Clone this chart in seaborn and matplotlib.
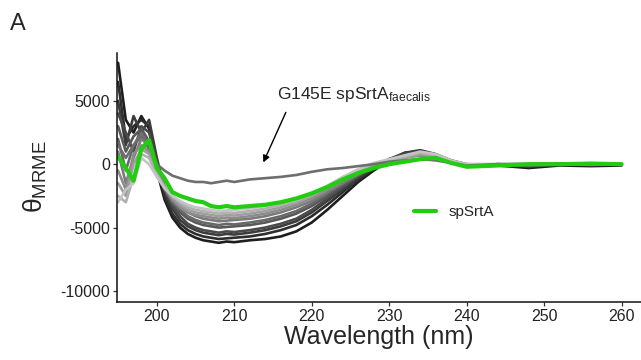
import seaborn as sns
import numpy as np
import matplotlib.pyplot as plt
import pandas as pd

# wavelength grid (nm)
wavelength = [195, 196, 197, 198, 199, 200, 201, 202, 203, 204, 205, 206, 207, 208, 209, 210,
              212, 214, 216, 218, 220, 222, 224, 226, 228, 230, 232, 234, 236, 238, 240,
              244, 248, 252, 256, 260]

# grey spectra of the other sortases, dark to light
grey_1 = [8000, 3500, 2500, 3800, 2800, -500, -2800, -4200, -5000, -5500, -5800, -6000, -6100, -6200, -6100, -6150,
          -6000, -5900, -5700, -5300, -4600, -3600, -2500, -1400, -500, 300, 800, 1000, 700, 200, -200,
          -100, -300, -100, -150, -100]
grey_2 = [6500, 2000, 3000, 3500, 3000, 0, -2500, -3900, -4700, -5200, -5500, -5700, -5800, -5900, -5850, -5800,
          -5700, -5500, -5200, -4800, -4100, -3200, -2200, -1200, -400, 300, 900, 1100, 800, 300, 0,
          -100, -100, 0, -100, 0]
grey_3 = [5000, 1500, 3800, 2500, 3500, 500, -2000, -3500, -4400, -4900, -5200, -5400, -5500, -5600, -5500, -5550,
          -5400, -5200, -4900, -4500, -3800, -2900, -2000, -1100, -300, 400, 900, 1000, 700, 200, -100,
          0, -200, 0, -50, 0]
grey_4 = [4000, 2500, 1000, 3000, 2500, 200, -1800, -3200, -4100, -4700, -5000, -5200, -5300, -5400, -5300, -5350,
          -5200, -5000, -4700, -4300, -3600, -2700, -1800, -900, -200, 400, 800, 1000, 600, 200, -100,
          -100, 0, 50, -50, 0]
grey_5 = [3000, 1000, 2200, 2800, 1800, -200, -1800, -3000, -3800, -4300, -4600, -4800, -4900, -5000, -4950, -4900,
          -4800, -4600, -4300, -3900, -3300, -2500, -1700, -900, -200, 300, 700, 900, 600, 200, -100,
          0, 0, 0, -50, 0]
grey_6 = [2000, -500, 1500, 2200, 1200, -600, -2000, -3000, -3600, -4100, -4400, -4600, -4700, -4800, -4700, -4750,
          -4600, -4400, -4100, -3700, -3100, -2300, -1500, -800, -200, 300, 600, 800, 500, 100, -100,
          0, -100, 0, 0, 0]
grey_7 = [1000, -1500, 500, 2000, 1500, -300, -1700, -2700, -3400, -3800, -4100, -4300, -4400, -4500, -4450, -4400,
          -4300, -4100, -3800, -3400, -2900, -2200, -1500, -800, -200, 200, 600, 700, 500, 100, -100,
          0, 0, 50, 0, 0]
grey_8 = [-500, -2000, 800, 1500, 1000, -500, -1800, -2800, -3400, -3800, -4000, -4100, -4200, -4300, -4200, -4250,
          -4100, -3900, -3600, -3200, -2700, -2000, -1300, -700, -200, 200, 500, 700, 500, 100, -100,
          0, 0, 0, 0, 0]
grey_9 = [-1500, -2500, 0, 1200, 800, -700, -1800, -2600, -3200, -3600, -3800, -3900, -4000, -4100, -4000, -4050,
          -3900, -3700, -3400, -3000, -2500, -1800, -1200, -600, -100, 200, 500, 800, 600, 200, 0,
          0, 0, 0, 0, 0]
grey_10 = [-2500, -3000, -1000, 800, 500, -800, -1800, -2500, -3000, -3400, -3600, -3700, -3800, -3900, -3800, -3850,
           -3700, -3500, -3200, -2900, -2400, -1800, -1100, -500, 0, 300, 600, 900, 700, 200, 0,
           0, 0, 0, 0, 0]
grey_11 = [-3000, -2000, -1500, 500, 0, -1000, -1900, -2500, -2900, -3200, -3400, -3500, -3600, -3700, -3650, -3600,
           -3500, -3300, -3100, -2800, -2300, -1700, -1000, -400, 100, 400, 700, 1000, 800, 300, 0,
           0, 0, 0, 0, 0]
# G145E spSrtA faecalis mutant
g145e = [1500, 500, 1500, 2500, 1500, 0, -500, -900, -1100, -1300, -1400, -1400, -1500, -1400, -1300, -1400,
         -1200, -1100, -1000, -850, -600, -400, -300, -150, 0, 200, 300, 400, 300, 100, -100,
         0, -50, 0, 0, -50]
# spSrtA
spsrta = [600, -300, -1300, 1200, 1900, -300, -1100, -2200, -2500, -2700, -2900, -3000, -3300, -3400, -3300, -3400,
          -3300, -3200, -3000, -2700, -2300, -1800, -1200, -700, -300, 0, 200, 400, 500, 100, -200,
          -100, 0, 0, 50, 0]

grey_series = {"g1": grey_1, "g2": grey_2, "g3": grey_3, "g4": grey_4, "g5": grey_5, "g6": grey_6,
               "g7": grey_7, "g8": grey_8, "g9": grey_9, "g10": grey_10, "g11": grey_11, "G145E": g145e}
grey_colors = {"g1": "#1e1e1e", "g2": "#2d2d2d", "g3": "#3c3c3c", "g4": "#4a4a4a", "g5": "#585858",
               "g6": "#686868", "g7": "#7a7a7a", "g8": "#8c8c8c", "g9": "#9e9e9e", "g10": "#b0b0b0",
               "g11": "#c4c4c4", "G145E": "#6e6e6e"}

rows = []
for name, vals in grey_series.items():
    for w, v in zip(wavelength, vals):
        rows.append({"Wavelength": w, "Theta": v, "Sample": name})
df = pd.DataFrame(rows)
df_sp = pd.DataFrame({"Wavelength": wavelength, "Theta": spsrta})

sns.set_theme(style="ticks")
plt.rcParams["font.family"] = ["Liberation Sans", "DejaVu Sans"]
plt.rcParams["mathtext.fontset"] = "custom"
plt.rcParams["mathtext.rm"] = "Liberation Sans"
plt.rcParams["mathtext.it"] = "Liberation Sans:italic"
plt.rcParams["axes.unicode_minus"] = False

fig = plt.figure(figsize=(6.41, 3.6), dpi=100)
ax = fig.add_axes([0.183, 0.162, 0.817, 0.692])

sns.lineplot(data=df, x="Wavelength", y="Theta", hue="Sample", palette=grey_colors,
             linewidth=1.9, legend=False, ax=ax, estimator=None, sort=False)
sns.lineplot(data=df_sp, x="Wavelength", y="Theta", color="#22cc11", linewidth=3.0,
             label="spSrtA", ax=ax, estimator=None, sort=False)

ax.set_xlim(194.9, 262.5)
ax.set_ylim(-10845, 8810)
ax.set_xticks([200, 210, 220, 230, 240, 250, 260])
ax.set_yticks([5000, 0, -5000, -10000])
sns.despine(ax=ax)
for s in ["left", "bottom"]:
    ax.spines[s].set_color("#111111")
    ax.spines[s].set_linewidth(1.1)
ax.tick_params(axis="both", labelsize=11.5, length=3, width=0.9, color="#333333",
               labelcolor="#222222", pad=2)

ax.set_xlabel("Wavelength (nm)", fontsize=18, labelpad=1)
ax.set_ylabel("θ$_{\\mathrm{MRME}}$", fontsize=19, labelpad=8)

ax.legend(frameon=False, loc="center left", bbox_to_anchor=(0.54, 0.36), fontsize=11,
          handlelength=1.45, handletextpad=0.8)

ax.text(215.5, 5470, "G145E spSrtA$_{\\mathrm{faecalis}}$", fontsize=12.5, va="center", ha="left")
ax.annotate("", xy=(213.6, -60), xytext=(216.8, 4290),
            arrowprops=dict(arrowstyle="-|>", color="black", lw=1.0, mutation_scale=10))

fig.text(0.015, 0.965, "A", fontsize=17, va="top", ha="left")

fig.savefig("out.png", dpi=100)
